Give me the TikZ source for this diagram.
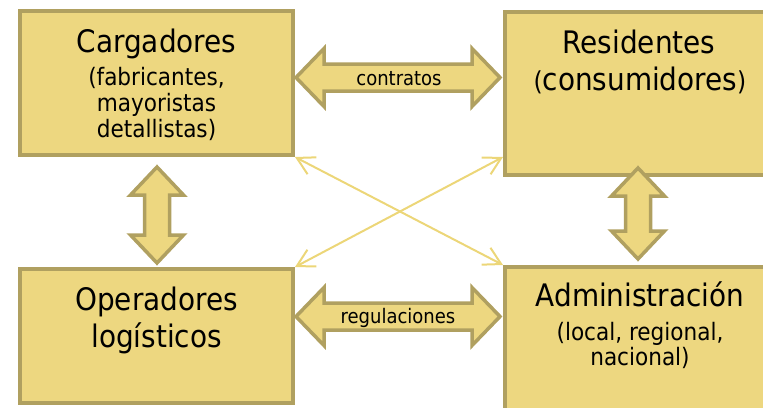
\documentclass[tikz,border=0pt]{standalone}
\usepackage{fontspec}
\setmainfont{DejaVu Sans Condensed}
\usetikzlibrary{arrows.meta,calc}
\definecolor{boxfill}{RGB}{237,215,128}
\definecolor{boxline}{RGB}{176,160,96}
\definecolor{crossline}{RGB}{236,214,120}
\newcommand\hdarr[3]{\draw[blockarr] (#1,#3) -- ({#1+28},{#3-29}) -- ({#1+28},{#3-13.5}) -- ({#2-28},{#3-13.5}) -- ({#2-28},{#3-29}) -- (#2,#3) -- ({#2-28},{#3+29}) -- ({#2-28},{#3+13.5}) -- ({#1+28},{#3+13.5}) -- ({#1+28},{#3+29}) -- cycle;}
\newcommand\vdarr[3]{\draw[blockarr] (#3,#1) -- ({#3-26.5},{#1+28}) -- ({#3-12.5},{#1+28}) -- ({#3-12.5},{#2-28}) -- ({#3-26.5},{#2-28}) -- (#3,#2) -- ({#3+26.5},{#2-28}) -- ({#3+12.5},{#2-28}) -- ({#3+12.5},{#1+28}) -- ({#3+26.5},{#1+28}) -- cycle;}
\tikzset{
  box/.style={draw=boxline, fill=boxfill, line width=4pt, inner sep=0pt, rectangle},
  blockarr/.style={draw=boxline, fill=boxfill, line width=3.5pt, line join=miter},
  title/.style={anchor=base, inner sep=0pt, font=\fontsize{31}{33}\selectfont},
  sub/.style={anchor=base, inner sep=0pt, font=\fontsize{24}{26}\selectfont},
  arrlabel/.style={anchor=base, inner sep=0pt, font=\fontsize{20}{22}\selectfont},
  cross/.style={draw=crossline, line width=2pt, {Straight Barb[length=17pt,width=19pt]}-{Straight Barb[length=17pt,width=19pt]}}
}
\begin{document}
\begin{tikzpicture}[x=1pt,y=-1pt]
\useasboundingbox (0,0) rectangle (763,407);
\begin{scope}
\clip (0,0) rectangle (763,407);
% boxes
\node[box, minimum width=273pt, minimum height=144pt] (carg) at (156.5,83) {};
\node[box, minimum width=268pt, minimum height=163pt] (resi) at (639,93.5) {};
\node[box, minimum width=273pt, minimum height=134pt] (oper) at (156.5,336) {};
\node[box, minimum width=268pt, minimum height=151pt] (admi) at (639,342.5) {};
% cross connectors
\coordinate (rw) at ($(resi.south west)+(0,-20)$);
\draw[cross] (carg.south east) -- (admi.north west);
\draw[cross] (oper.north east) -- (rw);
% block arrows
\hdarr{296}{500}{77.5}
\hdarr{296}{500}{316.5}
\vdarr{167}{263}{157}
\vdarr{168}{259}{638}
% texts
\node[title] (t1) at (156.5,52) {Cargadores};
\node[sub] (t1a) at (156.5,85) {(fabricantes,};
\node[sub] (t1b) at (156.5,111) {mayoristas};
\node[sub] (t1c) at (156.5,137) {detallistas)};
\node[title] (t2) at (639,53) {Residentes};
\node[title] (t2a) at (640,90) {{\fontsize{26}{28}\selectfont(}consumidores{\fontsize{26}{28}\selectfont)}};
\node[title] (t3) at (156.5,310) {Operadores};
\node[title] (t3a) at (156.5,347) {logísticos};
\node[title] (t4) at (640,306) {Administración};
\node[sub] (t4a) at (640,340) {(local, regional,};
\node[sub] (t4b) at (640,365) {nacional)};
\node[arrlabel] (l1) at (399,85) {contratos};
\node[arrlabel] (l2) at (398,323) {regulaciones};
\end{scope}
\end{tikzpicture}
\end{document}
